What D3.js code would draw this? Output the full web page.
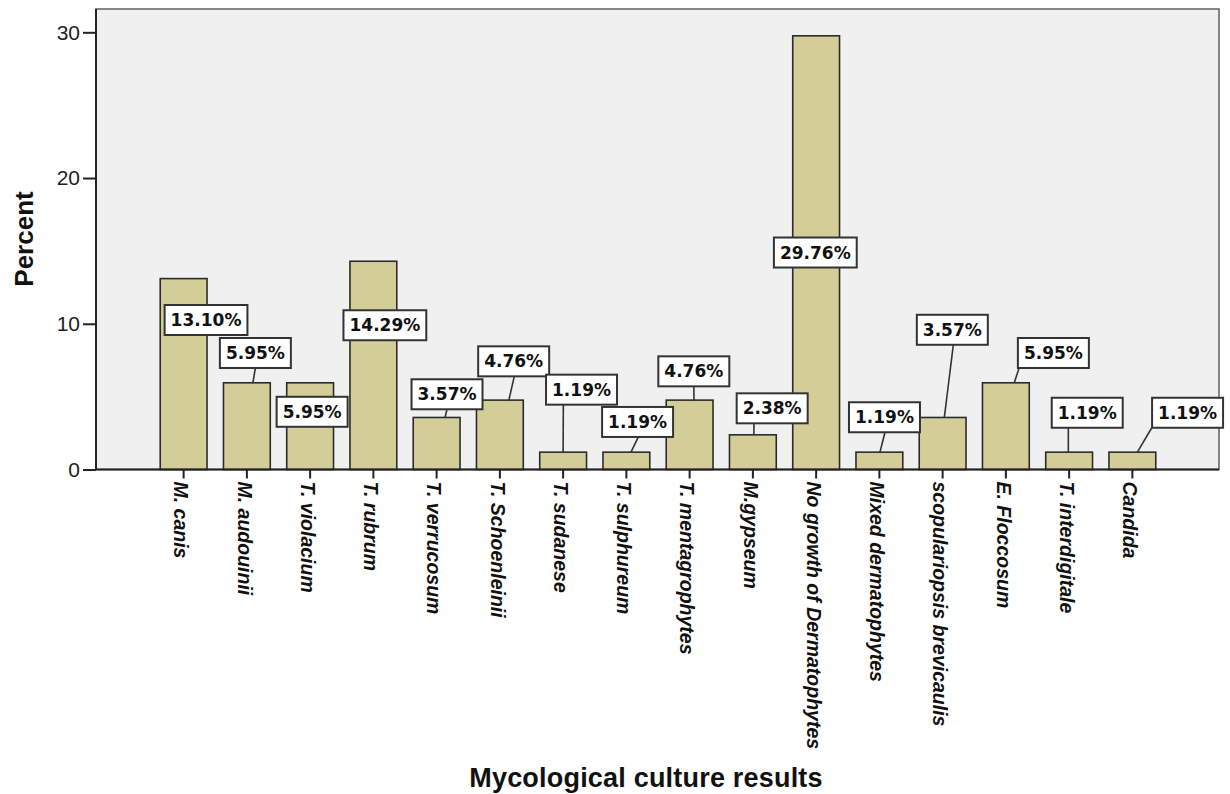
<!DOCTYPE html>
<html><head><meta charset="utf-8">
<script src="https://cdn.jsdelivr.net/npm/d3@7"></script>
<style>body{margin:0;background:#fff}</style>
</head><body>
<svg id="chart" width="1230" height="794"></svg>
<script>
// ---- data ----
const categories = ["M. canis","M. audouinii","T. violacium","T. rubrum","T. verrucosum","T. Schoenleinii","T. sudanese","T. sulphureum","T. mentagrophytes","M.gypseum","No growth of Dermatophytes","Mixed dermatophytes","scopulariopsis brevicaulis","E. Floccosum","T. interdigitale","Candida"];
const percentValues = [13.10,5.95,5.95,14.29,3.57,4.76,1.19,1.19,4.76,2.38,29.76,1.19,3.57,5.95,1.19,1.19];
const labelTexts = ["13.10%","5.95%","5.95%","14.29%","3.57%","4.76%","1.19%","1.19%","4.76%","2.38%","29.76%","1.19%","3.57%","5.95%","1.19%","1.19%"];
const yTickValues = [0,10,20,30];
const xTitle = "Mycological culture results";
const yTitle = "Percent";

// ---- layout (label box offsets from bar top-centre, leader start/end offsets) ----
const labelLayout = [
  [22.4, 41.4, null, null],
  [8.5, -29.8, 0, 6],
  [2, 29, null, null],
  [11.5, 64, null, null],
  [10.4, -23.2, 0, 8.4],
  [13.8, -38.8, 0.6, 9],
  [18.4, -62.5, -18.2, 0],
  [11.2, -30.2, 0.8, 4.6],
  [4.2, -28.8, 0, 4.4],
  [19.3, -26.5, -18.2, 1],
  [-0.8, 216.7, null, null],
  [5.1, -34.9, 0.5, 0.6],
  [9.7, -87.7, 1, 1.7],
  [47.5, -29.8, -34.3, 8.4],
  [18.1, -39.4, -18.9, -0.8],
  [55.2, -39.4, -35.8, 5]
];

const svg = d3.select("#chart");
const frame = {left:96, top:9, right:1219, bottom:469.5};

const x = d3.scaleBand().domain(categories).range([152, 1164]).paddingInner(0.26).paddingOuter(0.13);
const y = d3.scaleLinear().domain([0, 31.6]).range([frame.bottom, frame.top]);

// plot background
svg.append("rect")
  .attr("x", frame.left).attr("y", frame.top)
  .attr("width", frame.right - frame.left).attr("height", frame.bottom - frame.top)
  .attr("fill", "#f0f0f0").attr("stroke", "#6a6a6a").attr("stroke-width", 1.6);

// bars
svg.append("g").selectAll("rect").data(categories).join("rect")
  .attr("x", d => x(d))
  .attr("y", (d,i) => y(percentValues[i]))
  .attr("width", x.bandwidth())
  .attr("height", (d,i) => y(0) - y(percentValues[i]))
  .attr("fill", "#d3ce97").attr("stroke", "#2b2b2b").attr("stroke-width", 1.6);

// axis lines
svg.append("line").attr("x1", frame.left).attr("x2", frame.left).attr("y1", frame.top).attr("y2", frame.bottom)
  .attr("stroke", "#222").attr("stroke-width", 2);
svg.append("line").attr("x1", frame.left).attr("x2", frame.right).attr("y1", frame.bottom).attr("y2", frame.bottom)
  .attr("stroke", "#222").attr("stroke-width", 2);

// y axis
const yAxis = svg.append("g").attr("transform", `translate(${frame.left},0)`)
  .call(d3.axisLeft(y).tickValues(yTickValues).tickSize(13).tickPadding(3).tickFormat(d3.format("d")));
yAxis.select(".domain").remove();
yAxis.selectAll(".tick line").attr("stroke", "#222").attr("stroke-width", 2);
yAxis.selectAll(".tick text").attr("font-family", "Liberation Sans, Arial, sans-serif")
  .attr("font-size", 21).attr("fill", "#222");

// x axis
const xAxis = svg.append("g").attr("transform", `translate(0,${frame.bottom})`)
  .call(d3.axisBottom(x).tickSize(9).tickPadding(2));
xAxis.select(".domain").remove();
xAxis.selectAll(".tick line").attr("stroke", "#222").attr("stroke-width", 2);
xAxis.selectAll(".tick text")
  .attr("font-family", "Liberation Sans, Arial, sans-serif")
  .attr("font-size", 19.5).attr("font-weight", "bold").attr("font-style", "italic")
  .attr("fill", "#111")
  .attr("text-anchor", "start")
  .attr("transform", "rotate(90)")
  .attr("x", 12).attr("y", 0).attr("dy", "0.48em");

// leaders
const leaders = svg.append("g");
const labels = svg.append("g");
categories.forEach((c, i) => {
  const [dx, dy, sx, ex] = labelLayout[i];
  const bx = x(c) + x.bandwidth()/2;
  const by = y(percentValues[i]);
  const cx = bx + dx, cy = by + dy;
  const g = labels.append("g");
  const t = g.append("text").text(labelTexts[i])
    .attr("x", cx).attr("y", cy).attr("dy", "0.36em")
    .attr("text-anchor", "middle")
    .attr("font-family", "DejaVu Sans, Verdana, sans-serif")
    .attr("font-weight", "bold").attr("font-size", 17).attr("fill", "#111");
  const w = t.node().getComputedTextLength() + 12;
  const h = 30;
  g.insert("rect", "text")
    .attr("x", cx - w/2).attr("y", cy - h/2).attr("width", w).attr("height", h)
    .attr("fill", "#fff").attr("stroke", "#333").attr("stroke-width", 2);
  if (sx !== null) {
    leaders.append("line")
      .attr("x1", cx + sx).attr("y1", cy + h/2)
      .attr("x2", bx + ex).attr("y2", by)
      .attr("stroke", "#333").attr("stroke-width", 1.6);
  }
});

// titles
svg.append("text").text(yTitle)
  .attr("transform", "translate(33,239) rotate(-90)")
  .attr("text-anchor", "middle")
  .attr("font-family", "Liberation Sans, Arial, sans-serif")
  .attr("font-weight", "bold").attr("font-size", 26).attr("fill", "#111");
svg.append("text").text(xTitle)
  .attr("x", 646).attr("y", 787)
  .attr("text-anchor", "middle")
  .attr("font-family", "Liberation Sans, Arial, sans-serif")
  .attr("font-weight", "bold").attr("font-size", 27).attr("letter-spacing", 0.2).attr("fill", "#111");
</script>
</body></html>
